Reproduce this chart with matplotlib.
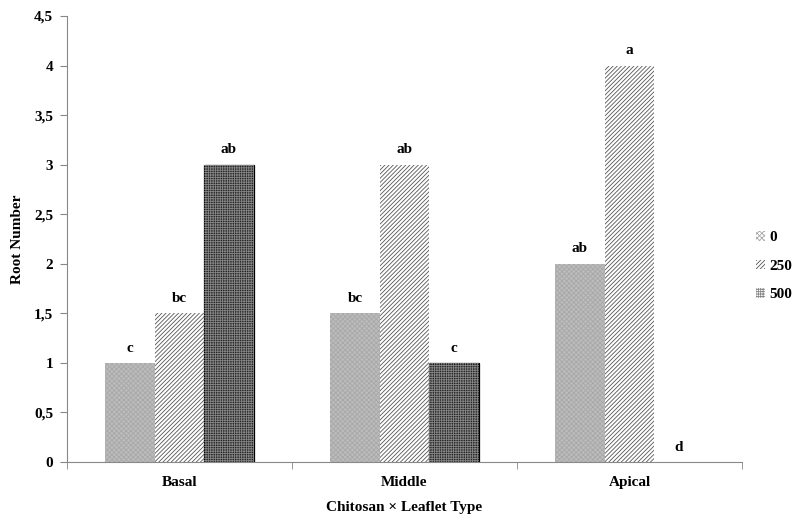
import matplotlib.pyplot as plt
import numpy as np
from matplotlib.ticker import FuncFormatter, FixedLocator

plt.rcParams['font.family'] = ['Liberation Serif', 'DejaVu Serif']
plt.rcParams['font.weight'] = 'bold'
plt.rcParams['hatch.linewidth'] = 0.6

# leaflet types on x, chitosan doses as series
leaflets = ['Basal', 'Middle', 'Apical']
doses = ['0', '250', '500']
root_0 = [1.0, 1.5, 2.0]
root_250 = [1.5, 3.0, 4.0]
root_500 = [3.0, 1.0, 0.0]
letters_0 = ['c', 'bc', 'ab']
letters_250 = ['bc', 'ab', 'a']
letters_500 = ['ab', 'c', 'd']

series = [root_0, root_250, root_500]
letters = [letters_0, letters_250, letters_500]
# face, hatch, hatch colour, border
styles = [
    ('#bcbcbc', 'xxxxxxx', '#a8a8a8', '#bcbcbc'),
    ('white', '////////', '#555555', 'white'),
    ('#262626', '+++++++', '#858585', 'black'),
]

fig = plt.figure(figsize=(7.97, 5.15), dpi=100)
ax = fig.add_axes([0.084, 0.103, 0.847, 0.866])

x = np.arange(len(leaflets))
w = 0.22
handles = []
for i, (vals, lab) in enumerate(zip(series, letters)):
    face, hatch, hcol, edge = styles[i]
    pos = x + (i - 1) * w
    lw = [0.9 if (i == 2 and v > 0) else 0 for v in vals]
    ax.bar(pos, vals, w, color=face, edgecolor=edge, linewidth=lw, zorder=2)
    h = ax.bar(pos, vals, w, color='none', edgecolor=hcol, hatch=hatch, linewidth=0, zorder=3)
    handles.append(h)
    for px, v, t in zip(pos, vals, lab):
        ax.annotate(t, (px, v), xytext=(0, 6), textcoords='offset points',
                    ha='center', va='bottom', fontsize=11, fontweight='bold')

ax.set_xlim(-0.5, 2.5)
ax.set_ylim(0, 4.5)
ax.set_yticks(np.arange(0, 4.51, 0.5))
ax.yaxis.set_major_formatter(FuncFormatter(lambda v, p: ('%g' % v).replace('.', ',')))
ax.set_xticks(x)
ax.set_xticklabels(leaflets, fontsize=11, fontweight='bold')
ax.xaxis.set_minor_locator(FixedLocator([-0.5, 0.5, 1.5, 2.5]))
ax.tick_params(axis='x', which='major', length=0, pad=10)
ax.tick_params(axis='x', which='minor', length=5, color='#888888', direction='out')
ax.tick_params(axis='y', length=5, color='#888888', labelsize=11, pad=5)

for s in ['top', 'right']:
    ax.spines[s].set_visible(False)
for s in ['left', 'bottom']:
    ax.spines[s].set_color('#888888')

ax.set_ylabel('Root Number', fontsize=11, fontweight='bold', labelpad=7)
ax.set_xlabel('Chitosan × Leaflet Type', fontsize=11, fontweight='bold', labelpad=9)

fig.legend(handles, doses, loc='center left', bbox_to_anchor=(0.948, 0.483),
           frameon=False, fontsize=11, handlelength=0.6, handleheight=0.6,
           handletextpad=0.3, labelspacing=1.0, borderaxespad=0, borderpad=0)

fig.savefig('out.png', dpi=100)
